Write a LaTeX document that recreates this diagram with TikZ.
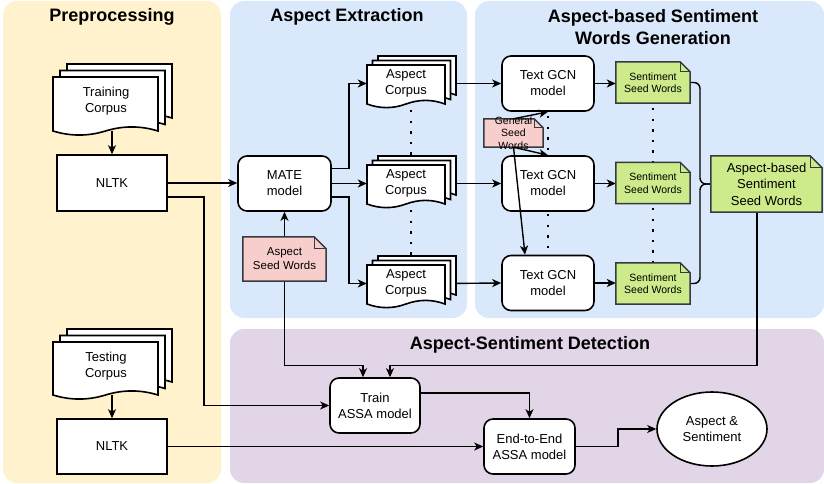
\documentclass[tikz,border=0pt]{standalone}
\usepackage{fontspec}
\setmainfont{Liberation Sans}
\usetikzlibrary{arrows.meta,shapes.geometric}
\pgfdeclarelayer{back}\pgfdeclarelayer{mid}\pgfdeclarelayer{shp}
\pgfsetlayers{back,mid,shp,main}
\definecolor{cyel}{HTML}{FFF2CC}
\definecolor{cblue}{HTML}{DAE8FC}
\definecolor{cpurp}{HTML}{E1D5E7}
\definecolor{cpink}{HTML}{F8CECC}
\definecolor{cgreen}{HTML}{CDEB8B}
\definecolor{cdark}{HTML}{36393D}
\tikzset{
 txt/.style={font=\fontsize{13}{16}\selectfont, align=center, inner sep=0pt},
 ttl/.style={font=\bfseries\fontsize{18}{22}\selectfont, align=center, inner sep=0pt},
 box/.style={draw, line width=1.6pt, fill=white, txt},
 rbox/.style={box, rounded corners=9pt},
 conn/.style={line width=1.4pt},
 arr/.style={conn, -{Stealth[length=9pt,width=8pt,inset=2.5pt]}},
 dotline/.style={line width=2.4pt, dash pattern=on 2.4pt off 8.2pt},
 docs/.style={draw, line width=1.6pt, fill=white},
 notes/.style={draw=cdark, line width=1.5pt},
 notenode/.style={txt, minimum width=#1},
 panel/.style={rounded corners=14pt},
}
% document page: x y w h dy (y downward)
\newcommand{\docpath}[5]{%
 \draw[docs] ({#1},{#2}) -- ({#1+#3},{#2}) -- ({#1+#3},{#2+#4-0.5*#5})
 .. controls ({#1+5*#3/6},{#2+#4-1.1*#5}) and ({#1+2*#3/3},{#2+#4-1.1*#5}) .. ({#1+#3/2},{#2+#4-0.5*#5})
 .. controls ({#1+#3/3},{#2+#4+0.1*#5}) and ({#1+#3/6},{#2+#4+0.1*#5}) .. ({#1},{#2+#4-0.5*#5}) -- cycle;}
% stack of three pages: x y w h dy ox oy
\newcommand{\multidoc}[7]{%
 \begin{pgfonlayer}{shp}
 \docpath{#1+2*#6}{#2-2*#7}{#3}{#4}{#5}
 \docpath{#1+#6}{#2-#7}{#3}{#4}{#5}
 \docpath{#1}{#2}{#3}{#4}{#5}
 \end{pgfonlayer}}
% note outline around a node: node, fold, fill
\newcommand{\noteshape}[3]{%
 \begin{pgfonlayer}{shp}
 \draw[notes, fill=#3] (#1.north west) -- ([xshift=-#2pt]#1.north east) -- ([yshift=-#2pt]#1.north east) -- (#1.south east) -- (#1.south west) -- cycle;
 \draw[notes, line width=1.1pt] ([xshift=-#2pt]#1.north east) -- ([xshift=-#2pt,yshift=-#2pt]#1.north east) -- ([yshift=-#2pt]#1.north east);
 \end{pgfonlayer}}
\begin{document}
\begin{tikzpicture}[x=1pt,y=-1pt]
\useasboundingbox (0,0) rectangle (824,484);
% panels
\begin{pgfonlayer}{back}
\fill[cyel, panel] (3,1) rectangle (221,483);
\fill[cblue, panel] (230,1) rectangle (467,318);
\fill[cblue, panel] (475,1) rectangle (824,318);
\fill[cpurp, panel] (230,329) rectangle (824,483);
\end{pgfonlayer}
\node[ttl] (t1) at (112,17) {Preprocessing};
\node[ttl] (t2) at (347,17) {Aspect Extraction};
\node[ttl] (t3) at (653,27) {Aspect-based Sentiment\\Words Generation};
\node[ttl] (t4) at (530,345) {Aspect-Sentiment Detection};

% preprocessing
\multidoc{53}{77}{105}{58.5}{9}{7}{6.5}
\node[txt] (trainc) at (106,101) {Training\\Corpus};
\coordinate (trainc-b) at (112,131);
\node[box, minimum width=110pt, minimum height=56pt] (nltk1) at (112,183) {NLTK};
\multidoc{53}{342}{105}{57.5}{9}{7}{6.5}
\node[txt] (testc) at (106,366) {Testing\\Corpus};
\coordinate (testc-b) at (112,395);
\node[box, minimum width=110pt, minimum height=55pt] (nltk2) at (112,446.5) {NLTK};

% aspect extraction
\node[rbox, minimum width=93pt, minimum height=55pt] (mate) at (284.5,183.5) {MATE\\model};
\node[notenode=83pt, minimum height=44pt, font=\fontsize{11.5}{14}\selectfont] (aseed) at (284.5,259) {Aspect\\Seed Words};
\noteshape{aseed}{12}{cpink}
\multidoc{367}{65}{78}{43}{8}{5.5}{4.5}
\node[txt, minimum width=78pt] (ac1) at (406,83.5) {Aspect\\Corpus};
\multidoc{367}{165}{78}{43}{8}{5.5}{4.5}
\node[txt, minimum width=78pt] (ac2) at (406,183.5) {Aspect\\Corpus};
\multidoc{367}{265}{78}{43}{8}{5.5}{4.5}
\node[txt, minimum width=78pt] (ac3) at (406,283.5) {Aspect\\Corpus};

% generation
\node[rbox, minimum width=92pt, minimum height=55pt] (gcn1) at (548,83.5) {Text GCN\\model};
\node[rbox, minimum width=92pt, minimum height=55pt] (gcn2) at (548,183.5) {Text GCN\\model};
\node[rbox, minimum width=92pt, minimum height=55pt] (gcn3) at (548,283) {Text GCN\\model};
\node[notenode=74pt, minimum height=41pt, font=\fontsize{10.5}{12.5}\selectfont] (sent1) at (653,82.5) {Sentiment\\Seed Words};
\node[notenode=74pt, minimum height=41pt, font=\fontsize{10.5}{12.5}\selectfont] (sent2) at (653,183) {Sentiment\\Seed Words};
\node[notenode=74pt, minimum height=41pt, font=\fontsize{10.5}{12.5}\selectfont] (sent3) at (653,283.5) {Sentiment\\Seed Words};
\noteshape{sent1}{10}{cgreen}
\noteshape{sent2}{10}{cgreen}
\noteshape{sent3}{10}{cgreen}
\node[notenode=111pt, minimum height=56pt, font=\fontsize{13}{16.5}\selectfont] (absw) at (766.5,184) {Aspect-based\\Sentiment\\Seed Words};
\noteshape{absw}{12}{cgreen}
\node[inner sep=0pt, minimum width=59pt, minimum height=28pt] (gsw) at (513.5,133) {};
\noteshape{gsw}{9}{cpink}
\node[txt, font=\fontsize{10.5}{12.5}\selectfont] (gsw-t) at (513.5,133) {General\\Seed\\Words};

% detection
\node[rbox, minimum width=90pt, minimum height=55pt] (train) at (375,405.5) {Train\\ASSA model};
\node[rbox, minimum width=91pt, minimum height=55pt] (e2e) at (529.5,446.5) {End-to-End\\ASSA model};
\node[draw, line width=1.6pt, fill=white, ellipse, txt, minimum width=110pt, minimum height=74pt] (as) at (712,429) {Aspect \&\\Sentiment};

% connectors
\begin{pgfonlayer}{mid}
\draw[arr] (trainc-b) -- (nltk1.north);
\draw[arr] (testc-b) -- (nltk2.north);
\draw[arr] (nltk1.east) -- (nltk1.east -| mate.west);
\draw[arr] ([yshift=-14pt]nltk1.east) -- ++(36,0) |- (train.west);
\draw[arr] (nltk2.east) -- (e2e.west);
\draw[arr] ([yshift=15pt]mate.east) -- ++(17,0) |- (ac1.west);
\draw[arr] (mate.east) -- (ac2.west);
\draw[arr] ([yshift=-13.5pt]mate.east) -- ++(17,0) |- (ac3.west);
\draw[arr] (aseed.north) -- (mate.south);
\draw[arr] (aseed.south) -- ++(0,84) -| ([xshift=-12pt]train.north);
\draw[arr] ([xshift=-9.5pt]absw.south) -- ++(0,153) -| ([xshift=15pt]train.north);
\draw[arr] (ac1.east) -- (gcn1.west);
\draw[arr] (ac2.east) -- (gcn2.west);
\draw[arr] (ac3.east) -- (gcn3.west);
\draw[arr] (gcn1.east) -- (gcn1.east -| sent1.west);
\draw[arr] (gcn2.east) -- (gcn2.east -| sent2.west);
\draw[arr] (gcn3.east) -- (gcn3.east -| sent3.west);
\draw[conn, rounded corners=6pt] (sent1.east) -| (700,184) -- (absw.west);
\draw[conn, rounded corners=6pt] (sent3.east) -| (700,184) -- (absw.west);
\draw[arr] ([yshift=12.5pt]train.east) -| (e2e.north);
\draw[arr] (e2e.east) -- ++(42,0) |- (as.west);
% dotted continuation marks
\draw[dotline] (411,110) -- (411,156);
\draw[dotline] (411,210) -- (411,256);
\draw[dotline] (548,116) -- (548,156);
\draw[dotline] (548,214) -- (548,256);
\draw[dotline] (653,108) -- (653,162);
\draw[dotline] (653,208) -- (653,263);
\end{pgfonlayer}
\draw[arr] (gsw.north) -- (gcn1.south);
\draw[arr] (gsw.south) -- (gcn2.north);
\draw[arr] (gsw.south) -- ([xshift=-23pt]gcn3.north);
\end{tikzpicture}
\end{document}
